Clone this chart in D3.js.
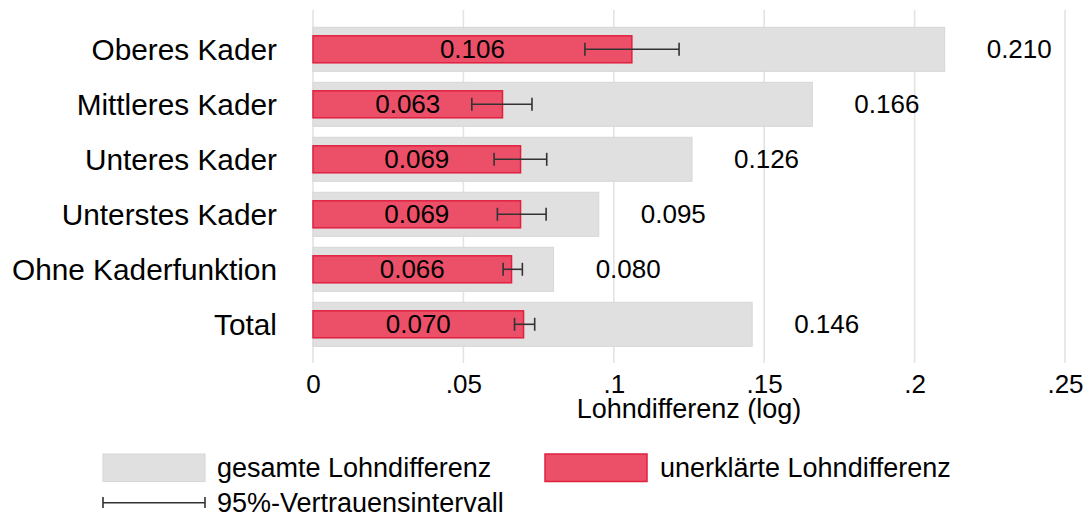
<!DOCTYPE html>
<html><head><meta charset="utf-8">
<script src="https://cdn.jsdelivr.net/npm/d3@7"></script>
<style>body{margin:0;background:#fff}svg{display:block;font-family:"Liberation Sans",Arial,sans-serif}</style>
</head><body>
<svg id="c" width="1090" height="515"></svg>
<script>
const categories = ["Oberes Kader","Mittleres Kader","Unteres Kader","Unterstes Kader","Ohne Kaderfunktion","Total"];
const totalGap = [0.210,0.166,0.126,0.095,0.080,0.146];
const unexplainedGap = [0.106,0.063,0.069,0.069,0.066,0.070];
const ciLow = [0.0904,0.0528,0.0602,0.0613,0.0632,0.0670];
const ciHigh = [0.1217,0.0728,0.0777,0.0775,0.0696,0.0737];
const xTicks = [0,0.05,0.1,0.15,0.2,0.25];
const xTickLabels = ["0",".05",".1",".15",".2",".25"];
const legendLabels = ["gesamte Lohndifferenz","unerklärte Lohndifferenz","95%-Vertrauensintervall"];
const axisTitle = "Lohndifferenz (log)";

const svg = d3.select("#c");
const x = d3.scaleLinear().domain([0,0.25]).range([313,1065]);
const y = d3.scaleBand().domain(categories).range([21.8,351.8]).paddingInner(0.2).paddingOuter(0.1);
const redH = 27;
const grid = "#e3e3e3", grayFill = "#e0e0e0", grayStroke = "#d6d6d6";
const redFill = "#ec5069", redStroke = "#e0203f", ebColor = "#333";

// gridlines
svg.append("g").selectAll("line").data(xTicks).join("line")
  .attr("x1",d=>x(d)).attr("x2",d=>x(d)).attr("y1",10).attr("y2",363)
  .attr("stroke",grid).attr("stroke-width",1.6);

// tick labels via axis
const ax = svg.append("g").attr("transform","translate(0,363)")
  .call(d3.axisBottom(x).tickValues(xTicks).tickFormat((d,i)=>xTickLabels[i]).tickSize(0).tickPadding(12));
ax.select(".domain").remove();
ax.selectAll("text").attr("font-size",26).attr("fill","#000").attr("font-family","Liberation Sans, Arial, sans-serif");

svg.append("text").attr("x",x(0.125)).attr("y",418).attr("text-anchor","middle")
  .attr("font-size",27).text(axisTitle);

const rows = categories.map((c,i)=>({c,t:totalGap[i],u:unexplainedGap[i],lo:ciLow[i],hi:ciHigh[i]}));

// gray bars
svg.append("g").selectAll("rect").data(rows).join("rect")
  .attr("x",x(0)).attr("y",d=>y(d.c)).attr("width",d=>x(d.t)-x(0)).attr("height",y.bandwidth())
  .attr("fill",grayFill).attr("stroke",grayStroke).attr("stroke-width",1);

// red bars
svg.append("g").selectAll("rect").data(rows).join("rect")
  .attr("x",x(0)).attr("y",d=>y(d.c)+y.bandwidth()/2-redH/2).attr("width",d=>x(d.u)-x(0)).attr("height",redH)
  .attr("fill",redFill).attr("stroke",redStroke).attr("stroke-width",1.5);

// error bars
const eb = svg.append("g").attr("stroke",ebColor).attr("stroke-width",1.6);
rows.forEach(d=>{
  const cy = y(d.c)+y.bandwidth()/2;
  eb.append("line").attr("x1",x(d.lo)).attr("x2",x(d.hi)).attr("y1",cy).attr("y2",cy);
  eb.append("line").attr("x1",x(d.lo)).attr("x2",x(d.lo)).attr("y1",cy-6.5).attr("y2",cy+6.5);
  eb.append("line").attr("x1",x(d.hi)).attr("x2",x(d.hi)).attr("y1",cy-6.5).attr("y2",cy+6.5);
});

// value labels
const fmt = d3.format(".3f");
svg.append("g").selectAll("text").data(rows).join("text")
  .attr("x",d=>x(d.u/2)).attr("y",d=>y(d.c)+y.bandwidth()/2).attr("dy","0.35em")
  .attr("text-anchor","middle").attr("font-size",26).text(d=>fmt(d.u));
svg.append("g").selectAll("text").data(rows).join("text")
  .attr("x",d=>x(d.t)+42).attr("y",d=>y(d.c)+y.bandwidth()/2).attr("dy","0.35em")
  .attr("font-size",26).text(d=>fmt(d.t));

// category labels
svg.append("g").selectAll("text").data(rows).join("text")
  .attr("x",277).attr("y",d=>y(d.c)+y.bandwidth()/2).attr("dy","0.35em")
  .attr("text-anchor","end").attr("font-size",29.8).text(d=>d.c);

// legend
const lg = svg.append("g");
lg.append("rect").attr("x",103).attr("y",454).attr("width",102).attr("height",27.5)
  .attr("fill",grayFill).attr("stroke",grayStroke);
lg.append("text").attr("x",217).attr("y",467.7).attr("dy","0.35em").attr("font-size",27).text(legendLabels[0]);
lg.append("rect").attr("x",545).attr("y",454).attr("width",102).attr("height",27.5)
  .attr("fill",redFill).attr("stroke",redStroke).attr("stroke-width",1.5);
lg.append("text").attr("x",660).attr("y",467.7).attr("dy","0.35em").attr("font-size",27).text(legendLabels[1]);
const lgl = lg.append("g").attr("stroke",ebColor).attr("stroke-width",1.6);
lgl.append("line").attr("x1",103).attr("x2",205).attr("y1",502.7).attr("y2",502.7);
lgl.append("line").attr("x1",103).attr("x2",103).attr("y1",497).attr("y2",508);
lgl.append("line").attr("x1",205).attr("x2",205).attr("y1",497).attr("y2",508);
lg.append("text").attr("x",217).attr("y",502.7).attr("dy","0.35em").attr("font-size",27).text(legendLabels[2]);
</script>
</body></html>
